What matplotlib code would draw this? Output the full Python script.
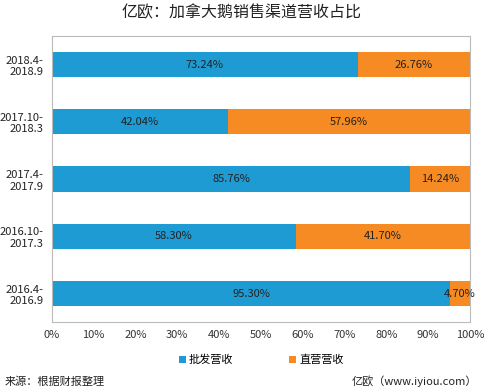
import matplotlib
matplotlib.use("Agg")
import matplotlib.pyplot as plt
import numpy as np

plt.rcParams['font.family'] = ['Noto Sans CJK SC', 'DejaVu Sans']

categories = ["2016.4-\n2016.9", "2016.10-\n2017.3", "2017.4-\n2017.9", "2017.10-\n2018.3", "2018.4-\n2018.9"]
wholesale = [95.30, 58.30, 85.76, 42.04, 73.24]
direct = [4.70, 41.70, 14.24, 57.96, 26.76]
series_names = ["批发营收", "直营营收"]
xticks = [0, 10, 20, 30, 40, 50, 60, 70, 80, 90, 100]

blue = "#1F9BD3"
orange = "#F68B24"

fig = plt.figure(figsize=(4.84, 3.90), dpi=100)
ax = fig.add_axes([0.107, 0.174, 0.864, 0.734])

y = np.arange(len(categories))
h = 0.44
b1 = ax.barh(y, wholesale, height=h, color=blue, label=series_names[0])
b2 = ax.barh(y, direct, left=wholesale, height=h, color=orange, label=series_names[1])

for i in range(len(categories)):
    ax.text(wholesale[i] / 2, y[i], f"{wholesale[i]:.2f}%", ha='center', va='center', fontsize=8, color='#222222')
    ax.text(wholesale[i] + direct[i] / 2, y[i], f"{direct[i]:.2f}%", ha='center', va='center', fontsize=8, color='#222222')

ax.set_xlim(0, 100)
ax.set_ylim(-0.5, len(categories) - 0.5)
ax.set_xticks(xticks)
ax.set_xticklabels([f"{v}%" for v in xticks], fontsize=8, color='#333333')
ax.set_yticks(y)
ax.set_yticklabels(categories, fontsize=8, color='#222222')
ax.tick_params(length=0, pad=6)
for s in ax.spines.values():
    s.set_color('#BBBBBB')
    s.set_linewidth(0.8)

fig.text(0.5, 0.988, "亿欧：加拿大鹅销售渠道营收占比", ha='center', va='top', fontsize=11.5, color='#222222')
fig.legend(handles=[b1, b2], loc='center', bbox_to_anchor=(0.54, 0.077), ncol=2, frameon=False,
           fontsize=8, handlelength=0.6, handleheight=0.6, columnspacing=5, handletextpad=0.3)
fig.text(0.01, 0.022, "来源：根据财报整理", ha='left', va='center', fontsize=8, color='#222222')
fig.text(0.985, 0.022, "亿欧（www.iyiou.com）", ha='right', va='center', fontsize=8, color='#222222')

fig.savefig("out.png", dpi=100)
